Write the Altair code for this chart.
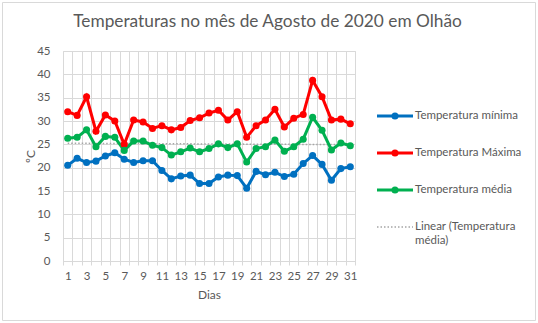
import altair as alt
import pandas as pd

dias = list(range(1, 32))
minimas = [20.5, 22.0, 21.1, 21.4, 22.5, 23.2, 21.8, 21.1, 21.5, 21.5,
           19.4, 17.6, 18.2, 18.4, 16.6, 16.6, 18.0, 18.4, 18.3, 15.6,
           19.2, 18.5, 19.0, 18.1, 18.6, 20.9, 22.6, 20.7, 17.3, 19.8, 20.2]
maximas = [32.0, 31.2, 35.2, 27.8, 31.3, 30.0, 25.0, 30.2, 29.8, 28.4,
           29.0, 28.1, 28.6, 30.1, 30.7, 31.7, 32.3, 30.2, 32.0, 26.5,
           29.0, 30.2, 32.5, 28.7, 30.6, 31.4, 38.7, 35.2, 30.2, 30.4, 29.4]
medias = [26.3, 26.5, 28.1, 24.5, 26.7, 26.5, 23.7, 25.7, 25.7, 24.8,
          24.3, 22.7, 23.4, 24.2, 23.4, 24.1, 25.1, 24.3, 25.1, 21.2,
          24.1, 24.5, 25.9, 23.5, 24.5, 26.1, 30.8, 28.0, 23.8, 25.3, 24.7]

series = ["Temperatura mínima", "Temperatura Máxima", "Temperatura média",
          "Linear (Temperatura média)"]
rotulos = ["Temperatura mínima", "Temperatura Máxima", "Temperatura média",
           "Linear (Temperatura\nmédia)"]
cores = ["#0070C0", "#FF0000", "#00B050", "#A5A5A5"]
y_ticks = list(range(0, 46, 5))

rows = []
for nome, vals in zip(series[:3], [minimas, maximas, medias]):
    for d, v in zip(dias, vals):
        rows.append({"dia": d, "serie": nome, "temp": v})
df = pd.DataFrame(rows)
legend_df = pd.DataFrame({"serie": series, "rotulo": rotulos})

FONT = "Lato"
GREY_TXT = "#595959"
GRID = "#D9D9D9"
TREND = "#A5A5A5"

x_scale = alt.Scale(domain=[0.5, 31.5], nice=False, zero=False)
y_scale = alt.Scale(domain=[0, 45], nice=False)
color_scale = alt.Scale(domain=series, range=cores)

x_axis = alt.Axis(
    values=[d - 0.5 for d in dias] + [dias[-1] + 0.5],
    grid=True, gridColor=GRID, domainColor=GRID, tickColor=GRID, tickSize=4,
    labelExpr="(datum.value + 0.5) % 2 == 1 ? format(datum.value + 0.5, 'd') : ''",
    labelOffset=4.71, labelFlush=False, labelOverlap=False, labelPadding=5,
    labelFont=FONT, labelFontSize=11.5, labelColor=GREY_TXT,
    title="Dias", titleFont=FONT, titleFontSize=12, titleFontWeight="normal",
    titleColor=GREY_TXT, titlePadding=8,
)
y_axis = alt.Axis(
    values=y_ticks, domain=False, ticks=False, grid=True, gridColor=GRID,
    labelPadding=13, labelFont=FONT, labelFontSize=11.5, labelColor=GREY_TXT,
    title="ºC", titleFont=FONT, titleFontSize=12, titleFontWeight="normal",
    titleColor=GREY_TXT, titleX=-26, titleY=105,
)

X = alt.X("dia:Q", scale=x_scale, axis=x_axis)
Y = alt.Y("temp:Q", scale=y_scale, axis=y_axis)
Y_noaxis = alt.Y("temp:Q", scale=y_scale, axis=None)
COLOR = alt.Color("serie:N", scale=color_scale, legend=None)

frame = alt.Chart(pd.DataFrame({"k": [0]})).mark_rect(
    fillOpacity=0, stroke=GRID, strokeWidth=1
).encode(x=alt.value(-60.5), x2=alt.value(472.5), y=alt.value(-48.5), y2=alt.value(269.5))

trend = alt.Chart(df).transform_filter(
    alt.datum.serie == series[2]
).transform_regression("dia", "temp", extent=[1, 31]).mark_line(
    color=TREND, strokeWidth=1.5, strokeDash=[1.5, 2]
).encode(x=X, y=Y_noaxis)

lines = alt.Chart(df).mark_line(strokeWidth=3).encode(x=X, y=Y, color=COLOR)
points = alt.Chart(df).mark_circle(size=50, opacity=1).encode(x=X, y=Y_noaxis, color=COLOR)

# legend (rows placed by a point scale over the series names)
LY = alt.Y("serie:N", scale=alt.Scale(type="point", domain=series, range=[65, 176], padding=0),
           axis=None)
leg_base = alt.Chart(legend_df)
leg_solid = leg_base.transform_filter(
    alt.FieldOneOfPredicate(field="serie", oneOf=series[:3])
)
leg_trend = leg_base.transform_filter(alt.datum.serie == series[3])

leg_lines = leg_solid.mark_rule(strokeWidth=3).encode(
    x=alt.value(314), x2=alt.value(350), y=LY, color=COLOR
)
leg_dots = leg_solid.mark_circle(size=50, opacity=1).encode(
    x=alt.value(332), y=LY, color=COLOR
)
leg_text = leg_solid.mark_text(
    align="left", baseline="middle", font=FONT, fontSize=11.5, color=GREY_TXT
).encode(x=alt.value(352), y=LY, text="rotulo:N")
leg_trend_line = leg_trend.mark_rule(
    strokeWidth=1.5, strokeDash=[1.5, 2], color=TREND
).encode(x=alt.value(314), x2=alt.value(350), y=LY)
leg_trend_text = leg_trend.mark_text(
    align="left", baseline="middle", font=FONT, fontSize=11.5, color=GREY_TXT,
    lineBreak="\n", lineHeight=14
).encode(x=alt.value(352), y=LY, text="rotulo:N")

chart = alt.layer(
    frame, trend, lines, points,
    leg_lines, leg_dots, leg_text, leg_trend_line, leg_trend_text,
).resolve_scale(y="independent").properties(
    width=292, height=210,
    title=alt.TitleParams(
        text="Temperaturas no mês de Agosto de 2020 em Olhão", font=FONT,
        fontSize=17.3, fontWeight="normal", color=GREY_TXT, anchor="middle",
        frame="group", dx=58.5, offset=-42, baseline="alphabetic",
    ),
    autosize=alt.AutoSizeParams(type="none"),
    padding={"left": 63, "top": 51, "right": 183, "bottom": 62},
).configure_view(stroke=None).configure(background="white")

chart.save("out.html", embed_options={"renderer": "svg", "actions": False})
